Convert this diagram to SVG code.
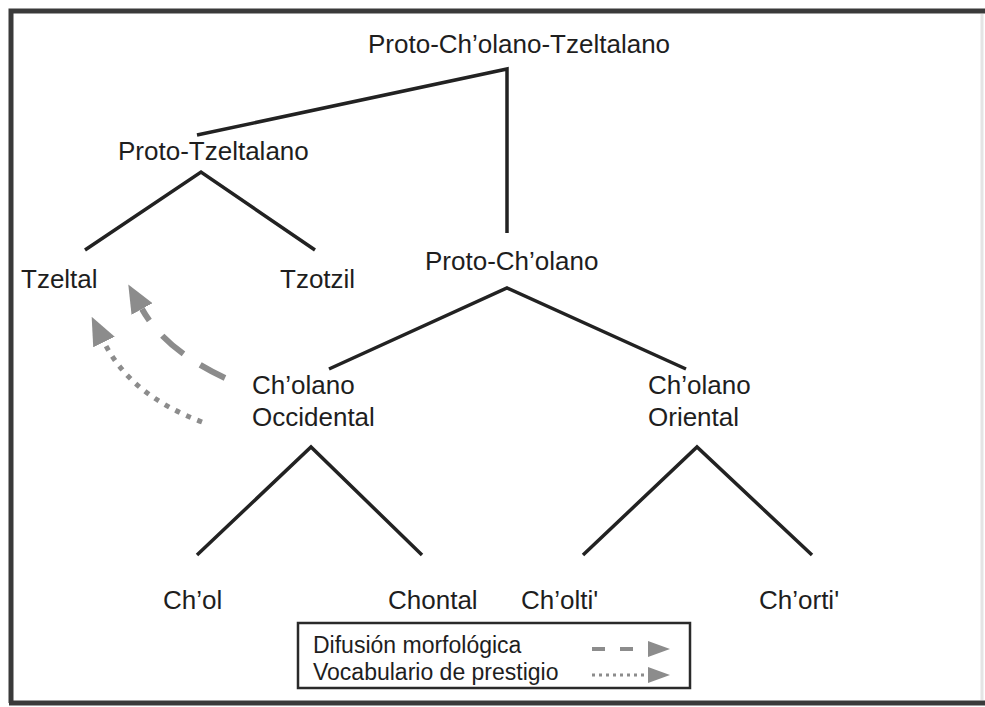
<svg xmlns="http://www.w3.org/2000/svg" width="985" height="707" viewBox="0 0 985 707">
  <style>
    .lbl { font-family: "Liberation Sans", Arial, sans-serif; font-size: 26px; fill: #1e1e1e; }
    .leg { font-family: "Liberation Sans", Arial, sans-serif; font-size: 23px; fill: #1e1e1e; }
    .edge { fill: none; stroke: #222; stroke-width: 3.5; stroke-linejoin: miter; }
    .frame { fill: none; stroke: #3a3a3a; stroke-width: 5; }
    .diff { fill: none; stroke: #8c8c8c; stroke-width: 6; stroke-dasharray: 28 20; }
    .voc { fill: none; stroke: #8c8c8c; stroke-width: 5; stroke-dasharray: 5 7; }
    .diffS { fill: none; stroke: #8c8c8c; stroke-width: 4; stroke-dasharray: 13 15; }
    .vocS { fill: none; stroke: #8c8c8c; stroke-width: 3; stroke-dasharray: 3 4; }
  </style>
  <defs>
    <marker id="head" markerUnits="userSpaceOnUse" markerWidth="28" markerHeight="24" viewBox="0 0 28 24" refX="0" refY="12" orient="auto">
      <path d="M0,0 L28,12 L0,24 Z" fill="#8c8c8c"/>
    </marker>
    <marker id="headS" markerUnits="userSpaceOnUse" markerWidth="22" markerHeight="16" viewBox="0 0 22 16" refX="0" refY="8" orient="auto">
      <path d="M0,0 L22,8 L0,16 Z" fill="#8c8c8c"/>
    </marker>
  </defs>
  <rect x="0" y="0" width="985" height="707" fill="#ffffff"/>
  <g id="frame">
    <path class="frame" d="M11,703 L11,11 L985,11"/>
    <path class="frame" d="M9,703 L985,703"/>
    <line x1="982" y1="14" x2="982" y2="700" stroke="#e4e4e4" stroke-width="3"/>
  </g>
  <g id="connectors">
    <polyline class="edge" points="197,135 507,69 507,233"/>
    <polyline class="edge" points="85,250 201,172 315,250"/>
    <polyline class="edge" points="329,369 507,288 686,369"/>
    <polyline class="edge" points="197,555 311,447 422,555"/>
    <polyline class="edge" points="583,555 697,447 812,555"/>
    <path class="diff" d="M225,378 Q165,350 142,309" marker-end="url(#head)"/>
    <path class="voc" d="M202,422 Q130,395 104,342" marker-end="url(#head)"/>
  </g>
  <g id="n-proto-cholano-tzeltalano"><text class="lbl" x="368" y="53">Proto-Ch’olano-Tzeltalano</text></g>
  <g id="n-proto-tzeltalano"><text class="lbl" x="118" y="160">Proto-Tzeltalano</text></g>
  <g id="n-tzeltal"><text class="lbl" x="21" y="288">Tzeltal</text></g>
  <g id="n-tzotzil"><text class="lbl" x="280" y="288">Tzotzil</text></g>
  <g id="n-proto-cholano"><text class="lbl" x="425" y="270">Proto-Ch’olano</text></g>
  <g id="n-cholano-occidental">
    <text class="lbl" x="252" y="394">Ch’olano</text>
    <text class="lbl" x="252" y="426">Occidental</text>
  </g>
  <g id="n-cholano-oriental">
    <text class="lbl" x="648" y="394">Ch’olano</text>
    <text class="lbl" x="648" y="426">Oriental</text>
  </g>
  <g id="n-chol"><text class="lbl" x="163" y="609">Ch’ol</text></g>
  <g id="n-chontal"><text class="lbl" x="388" y="609">Chontal</text></g>
  <g id="n-cholti"><text class="lbl" x="521" y="609">Ch’olti'</text></g>
  <g id="n-chorti"><text class="lbl" x="759" y="609">Ch’orti'</text></g>
  <g id="legend">
    <rect x="298" y="623" width="392" height="65" fill="none" stroke="#2a2a2a" stroke-width="2.5"/>
    <text class="leg" x="313" y="653">Difusión morfológica</text>
    <text class="leg" x="313" y="680">Vocabulario de prestigio</text>
    <path class="diffS" d="M592,649 L648,649" marker-end="url(#headS)"/>
    <path class="vocS" d="M592,675 L648,675" marker-end="url(#headS)"/>
  </g>
</svg>
